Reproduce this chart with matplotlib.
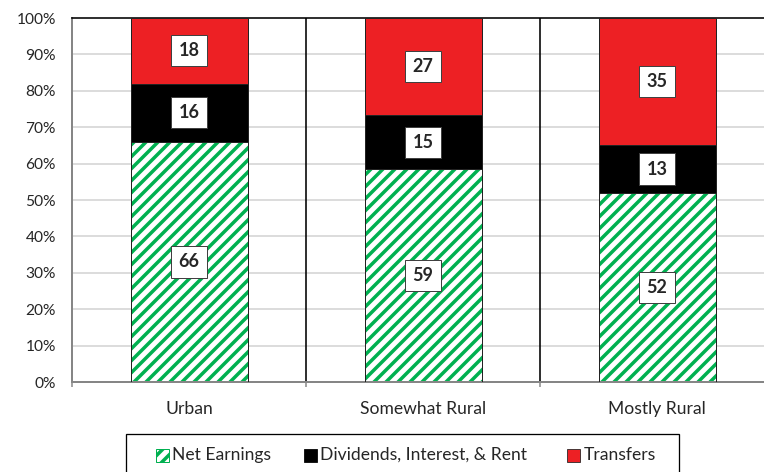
import matplotlib
matplotlib.use('Agg')
import matplotlib.pyplot as plt
import numpy as np
from matplotlib.patches import Rectangle

categories = ['Urban', 'Somewhat Rural', 'Mostly Rural']
net_earnings = [66, 59, 52]
dividends = [16, 15, 13]
transfers = [18, 27, 35]
series_names = ['Net Earnings', 'Dividends, Interest, & Rent', 'Transfers']
ytick_values = [0, 10, 20, 30, 40, 50, 60, 70, 80, 90, 100]
ytick_labels = [f'{v}%' for v in ytick_values]

GREEN = '#00B050'
RED = '#ED2024'
BLACK = '#000000'
TXT = '#262626'

DPI = 72
W, H = 764, 472
plt.rcParams['font.family'] = ['Lato', 'DejaVu Sans']
plt.rcParams['hatch.linewidth'] = 3.5
plt.rcParams['hatch.color'] = GREEN

fig = plt.figure(figsize=(W / DPI, H / DPI), dpi=DPI)
ax = fig.add_axes([72 / W, 1 - 382 / H, (774 - 72) / W, (382 - 18) / H])

ne = np.array(net_earnings, float)
dv = np.array(dividends, float)
tr = np.array(transfers, float)
tot = ne + dv + tr
ne_p = ne / tot * 100
dv_p = dv / tot * 100
tr_p = tr / tot * 100

x = np.arange(len(categories))
bw = 0.5

# grid
for v in ytick_values[1:-1]:
    ax.axhline(v, color='#D9D9D9', lw=1.8, zorder=0)

ax.bar(x, ne_p, width=bw, color='white', edgecolor=GREEN, hatch='//', lw=0, zorder=2)
ax.bar(x, ne_p, width=bw, fill=False, edgecolor='#222222', lw=1, zorder=3)
ax.bar(x, dv_p, width=bw, bottom=ne_p, color=BLACK, edgecolor='#222222', lw=1, zorder=3)
ax.bar(x, tr_p, width=bw, bottom=ne_p + dv_p, color=RED, edgecolor='#222222', lw=1, zorder=3)

box = dict(boxstyle='square,pad=0.4', fc='white', ec='#404040', lw=1)
for i in range(len(categories)):
    for bottom, h, v in [(0, ne_p[i], net_earnings[i]),
                         (ne_p[i], dv_p[i], dividends[i]),
                         (ne_p[i] + dv_p[i], tr_p[i], transfers[i])]:
        ax.text(x[i], bottom + h / 2, str(v), ha='center', va='center',
                fontsize=18, fontweight='bold', color=TXT, bbox=box, zorder=5)

for b in [0.5, 1.5]:
    ax.axvline(b, color=BLACK, lw=1.6, zorder=1)

ax.set_xlim(-0.5, 2.5)
ax.set_ylim(0, 100)
ax.set_yticks(ytick_values)
ax.set_yticklabels(ytick_labels)
ax.tick_params(axis='y', length=0, pad=16, labelsize=15.5, labelcolor=TXT)

ax.set_xticks([-0.5, 0.5, 1.5, 2.5])
ax.set_xticklabels([])
ax.tick_params(axis='x', which='major', direction='out', length=5, width=1.5, color='#868686')
ax.set_xticks(x, minor=True)
ax.set_xticklabels(categories, minor=True)
ax.tick_params(axis='x', which='minor', length=0, pad=19, labelsize=17.5, labelcolor=TXT)

for s in ['left', 'bottom']:
    ax.spines[s].set_color('#868686')
    ax.spines[s].set_linewidth(2)
ax.spines['top'].set_color(BLACK)
ax.spines['top'].set_linewidth(1.6)
ax.spines['right'].set_visible(False)

# legend drawn in figure pixel coordinates
def fx(px):
    return px / W

def fy(py):
    return 1 - py / H

fig.patches.append(Rectangle((fx(126), fy(490)), fx(679) - fx(126), fy(434) - fy(490),
                             transform=fig.transFigure, fill=False, ec=BLACK, lw=1.3))
handle_styles = [dict(fc='white', ec=GREEN, hatch='//', lw=1),
                 dict(fc=BLACK, ec=BLACK, lw=0.8),
                 dict(fc=RED, ec='#222222', lw=0.8)]
handle_x = [156, 304, 567]
text_x = [172, 320, 584]
for name, hx, tx, st in zip(series_names, handle_x, text_x, handle_styles):
    fig.patches.append(Rectangle((fx(hx), fy(462)), fx(13), 13 / H,
                                 transform=fig.transFigure, **st))
    fig.text(fx(tx), fy(455), name, ha='left', va='center', fontsize=17.5, color=TXT)

fig.savefig('out.png', dpi=DPI)
